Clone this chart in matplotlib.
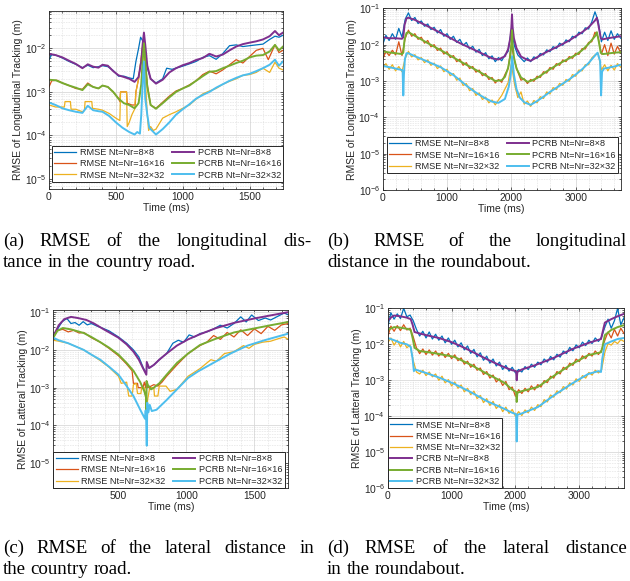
import matplotlib.pyplot as plt
import numpy as np
from matplotlib.ticker import LogLocator, NullFormatter, AutoMinorLocator

plt.rcParams['font.family'] = ['Liberation Sans', 'DejaVu Sans']
plt.rcParams['axes.unicode_minus'] = True

W, H = 630, 581
AX_COLOR = '#262626'
CAPTION_SIZE = 13.6
COLORS_RMSE = ['#0072BD', '#D95319', '#EDB120']
COLORS_PCRB = ['#7E2F8E', '#77AC30', '#4DBEEE']
LABELS_RMSE = ['RMSE Nt=Nr=8\u00d78', 'RMSE Nt=Nr=16\u00d716', 'RMSE Nt=Nr=32\u00d732']
LABELS_PCRB = ['PCRB Nt=Nr=8\u00d78', 'PCRB Nt=Nr=16\u00d716', 'PCRB Nt=Nr=32\u00d732']

# ---------------- (a) longitudinal, country road: (time ms, RMSE m)
rmse8_a = [(0, 5.5e-3), (20, 7.2e-3), (60, 6.8e-3), (100, 6.0e-3), (150, 5.0e-3), (200, 4.3e-3), (250, 3.6e-3),
           (290, 4.1e-3), (330, 3.6e-3), (370, 3.8e-3), (400, 4.0e-3), (440, 3.8e-3), (480, 3.1e-3), (520, 2.3e-3),
           (560, 2.3e-3), (600, 2.1e-3), (630, 2.0e-3), (650, 5e-3), (670, 1.0e-2), (685, 1.8e-2), (700, 1.5e-2),
           (715, 1.2e-2), (730, 4e-3), (760, 2.0e-3), (800, 1.6e-3), (850, 2.0e-3), (880, 3.5e-3), (920, 3.3e-3),
           (960, 3.6e-3), (1000, 3.9e-3), (1050, 4.4e-3), (1100, 5.0e-3), (1150, 6.2e-3), (1200, 6.8e-3),
           (1250, 5.6e-3), (1300, 7.6e-3), (1350, 1.15e-2), (1400, 1.2e-2), (1450, 1.1e-2), (1500, 1.15e-2),
           (1550, 1.2e-2), (1600, 1.25e-2), (1650, 1.6e-2), (1690, 1.9e-2), (1720, 1.8e-2), (1750, 2.0e-2)]
rmse16_a = [(0, 1.3e-3), (20, 1.8e-3), (60, 1.85e-3), (100, 1.6e-3), (150, 1.4e-3), (200, 1.2e-3), (250, 1.15e-3),
            (290, 1.6e-3), (330, 1.3e-3), (370, 1.2e-3), (400, 1.4e-3), (440, 1.3e-3), (480, 1.0e-3), (520, 7e-4),
            (530, 6e-4), (535, 1.0e-3), (580, 1.0e-3), (585, 5.5e-4), (620, 5e-4), (645, 5e-4), (650, 1.0e-3),
            (670, 2e-3), (690, 6e-3), (705, 1.5e-2), (720, 5e-3), (735, 1.5e-3), (760, 5e-4), (800, 4.2e-4),
            (850, 5.8e-4), (900, 8e-4), (950, 1.05e-3), (1000, 1.2e-3), (1050, 1.45e-3), (1100, 1.8e-3),
            (1150, 2.5e-3), (1200, 3.0e-3), (1250, 2.6e-3), (1300, 3.2e-3), (1350, 4.2e-3), (1400, 5.5e-3),
            (1450, 4.6e-3), (1500, 6.5e-3), (1550, 9e-3), (1600, 1.0e-2), (1640, 5.5e-3), (1690, 1.2e-2),
            (1720, 8e-3), (1750, 9e-3)]
rmse32_a = [(0, 5e-4), (50, 4.5e-4), (115, 4.5e-4), (120, 6e-4), (160, 6e-4), (165, 4e-4), (200, 4e-4),
            (250, 3.5e-4), (265, 3.8e-4), (270, 6e-4), (320, 6e-4), (325, 4.2e-4), (370, 4.0e-4), (400, 3.8e-4),
            (450, 3.2e-4), (500, 2.5e-4), (530, 2.2e-4), (535, 1.0e-3), (580, 1.0e-3), (585, 1.6e-4), (600, 2e-4),
            (620, 3e-4), (640, 4e-4), (650, 1.0e-3), (670, 2e-3), (690, 6e-3), (705, 1.4e-2), (720, 2e-3),
            (735, 3e-4), (745, 1.3e-4), (760, 1.6e-4), (780, 1.3e-4), (800, 1.4e-4), (850, 2.5e-4), (900, 3.0e-4),
            (950, 3.5e-4), (1000, 4.2e-4), (1050, 5.0e-4), (1100, 6.8e-4), (1150, 9e-4), (1200, 1.05e-3),
            (1250, 1.2e-3), (1300, 1.5e-3), (1350, 1.75e-3), (1400, 2.0e-3), (1450, 2.4e-3), (1500, 2.5e-3),
            (1550, 2.8e-3), (1600, 3.5e-3), (1650, 2.8e-3), (1690, 4.8e-3), (1720, 3.5e-3), (1750, 3.2e-3)]
pcrb8_a = [(0, 7.5e-3), (50, 7.0e-3), (100, 6.2e-3), (150, 5.2e-3), (200, 4.4e-3), (250, 3.5e-3), (290, 4.3e-3),
           (330, 3.8e-3), (370, 3.6e-3), (400, 4.2e-3), (440, 4.0e-3), (480, 3.0e-3), (520, 2.4e-3), (560, 2.2e-3),
           (600, 2.0e-3), (640, 1.7e-3), (670, 2.2e-3), (690, 5e-3), (700, 1.2e-2), (710, 2.3e-2), (720, 1.2e-2),
           (735, 4e-3), (760, 2.0e-3), (800, 1.55e-3), (850, 1.9e-3), (900, 2.8e-3), (950, 3.5e-3), (1000, 4.1e-3),
           (1050, 4.6e-3), (1100, 5.4e-3), (1150, 6.0e-3), (1200, 7.5e-3), (1250, 6.5e-3), (1300, 7.2e-3),
           (1350, 9e-3), (1400, 1.1e-2), (1450, 1.25e-2), (1500, 1.35e-2), (1550, 1.45e-2), (1600, 1.6e-2),
           (1650, 1.9e-2), (1690, 2.5e-2), (1720, 2.0e-2), (1750, 2.3e-2)]
pcrb16_a = [(0, 1.9e-3), (50, 1.85e-3), (100, 1.6e-3), (150, 1.4e-3), (200, 1.25e-3), (250, 1.1e-3), (290, 1.5e-3),
            (330, 1.3e-3), (370, 1.2e-3), (400, 1.4e-3), (440, 1.3e-3), (480, 1.0e-3), (520, 7e-4), (560, 5.5e-4),
            (600, 5e-4), (640, 4.2e-4), (670, 5.5e-4), (690, 1.5e-3), (700, 5e-3), (710, 1.3e-2), (720, 5e-3),
            (735, 1.3e-3), (760, 5e-4), (800, 4.1e-4), (850, 5.5e-4), (900, 7.5e-4), (950, 1.0e-3), (1000, 1.2e-3),
            (1050, 1.4e-3), (1100, 1.8e-3), (1150, 2.3e-3), (1200, 2.9e-3), (1250, 3.0e-3), (1300, 3.5e-3),
            (1350, 4.0e-3), (1400, 4.6e-3), (1450, 5.2e-3), (1500, 6.2e-3), (1550, 6.8e-3), (1600, 7e-3),
            (1650, 8.5e-3), (1690, 1.2e-2), (1720, 9e-3), (1750, 1.1e-2)]
pcrb32_a = [(0, 5.7e-4), (50, 5.0e-4), (100, 4.2e-4), (150, 3.8e-4), (200, 3.5e-4), (250, 3.3e-4), (290, 4.8e-4),
            (330, 3.8e-4), (370, 3.6e-4), (400, 3.5e-4), (450, 2.8e-4), (500, 2.0e-4), (550, 1.5e-4), (600, 1.2e-4),
            (640, 1.05e-4), (660, 1.2e-4), (680, 1.1e-4), (690, 3e-4), (700, 1.5e-3), (710, 5e-3), (720, 7e-4),
            (735, 3e-4), (750, 1.5e-4), (800, 1.05e-4), (850, 1.4e-4), (900, 2.0e-4), (950, 3.0e-4), (1000, 4.0e-4),
            (1050, 5.2e-4), (1100, 7e-4), (1150, 8.5e-4), (1200, 1.0e-3), (1250, 1.25e-3), (1300, 1.5e-3),
            (1350, 1.8e-3), (1400, 2.1e-3), (1450, 2.4e-3), (1500, 2.6e-3), (1550, 3.0e-3), (1600, 3.5e-3),
            (1650, 4.2e-3), (1690, 5.5e-3), (1720, 4e-3), (1750, 5e-3)]

# ---------------- (b) longitudinal, roundabout (RMSE sampled every 50 ms)
t_round = np.arange(0, 3701, 50)
rmse8_b = [1.0e-2, 1.8e-2, 1.3e-2, 2.0e-2, 1.4e-2, 2.8e-2, 1.6e-2, 5.0e-2, 7.5e-2, 4.6e-2,
           5.6e-2, 3.8e-2, 4.5e-2, 3.2e-2, 3.7e-2, 2.6e-2, 3.0e-2, 2.1e-2, 2.6e-2, 1.7e-2,
           2.0e-2, 1.4e-2, 1.7e-2, 1.15e-2, 1.4e-2, 9.5e-3, 1.15e-2, 7.6e-3, 9.0e-3, 6.2e-3,
           7.4e-3, 5.0e-3, 6.0e-3, 4.1e-3, 4.9e-3, 3.4e-3, 4.4e-3, 3.6e-3, 5.2e-3, 6.5e-3,
           2.5e-2, 9e-3, 5.2e-3, 4.2e-3, 3.4e-3, 4.3e-3, 3.4e-3, 4.6e-3, 4.2e-3, 5.7e-3,
           5.2e-3, 7.2e-3, 6.4e-3, 8.8e-3, 7.8e-3, 1.1e-2, 9.6e-3, 1.35e-2, 1.2e-2, 1.7e-2,
           1.55e-2, 2.2e-2, 2.0e-2, 2.9e-2, 2.7e-2, 4.2e-2, 8.0e-2, 4.5e-2, 1.2e-2, 2.2e-2,
           1.3e-2, 2.4e-2, 1.4e-2, 2.0e-2, 1.5e-2]
rmse16_b = [4.0e-3, 6.5e-3, 5.0e-3, 7.0e-3, 5.2e-3, 1.2e-2, 5.0e-3, 1.5e-2, 2.5e-2, 1.7e-2,
            2.0e-2, 1.4e-2, 1.6e-2, 1.1e-2, 1.3e-2, 8.7e-3, 1.0e-2, 6.9e-3, 8.0e-3, 5.5e-3,
            6.4e-3, 4.4e-3, 5.0e-3, 3.4e-3, 4.0e-3, 2.7e-3, 3.2e-3, 2.2e-3, 2.5e-3, 1.75e-3,
            2.0e-3, 1.4e-3, 1.6e-3, 1.1e-3, 1.25e-3, 8.8e-4, 1.1e-3, 9.2e-4, 1.5e-3, 2.2e-3,
            1.0e-2, 3.5e-3, 1.8e-3, 1.05e-3, 1.15e-3, 8.5e-4, 1.1e-3, 9.8e-4, 1.35e-3, 1.25e-3,
            1.8e-3, 1.65e-3, 2.35e-3, 2.1e-3, 3.0e-3, 2.7e-3, 3.8e-3, 3.4e-3, 4.7e-3, 4.2e-3,
            5.8e-3, 5.4e-3, 7.8e-3, 7.6e-3, 1.15e-2, 1.2e-2, 2.2e-2, 1.6e-2, 5.5e-3, 1.0e-2,
            5.0e-3, 1.1e-2, 5.5e-3, 9e-3, 6e-3]
rmse32_b = [2.2e-3, 3.0e-3, 2.1e-3, 2.8e-3, 1.9e-3, 2.5e-3, 1.8e-3, 4.2e-3, 6.5e-3, 4.6e-3,
            5.3e-3, 3.8e-3, 4.4e-3, 3.2e-3, 3.8e-3, 2.7e-3, 3.1e-3, 2.2e-3, 2.6e-3, 1.8e-3,
            2.1e-3, 1.4e-3, 1.6e-3, 1.05e-3, 1.2e-3, 7.5e-4, 8.5e-4, 5.4e-4, 6.2e-4, 4.0e-4,
            4.7e-4, 3.1e-4, 3.6e-4, 2.5e-4, 3.0e-4, 2.2e-4, 3.0e-4, 4.0e-4, 6e-4, 9e-4,
            3.0e-3, 8e-4, 3.5e-4, 5.0e-4, 2.3e-4, 2.8e-4, 2.0e-4, 2.9e-4, 2.5e-4, 3.7e-4,
            3.3e-4, 5.0e-4, 4.4e-4, 6.6e-4, 5.8e-4, 8.6e-4, 7.6e-4, 1.1e-3, 9.8e-4, 1.5e-3,
            1.35e-3, 2.0e-3, 1.9e-3, 2.8e-3, 2.8e-3, 4.3e-3, 5.2e-3, 5.8e-3, 2.0e-3, 2.8e-3,
            1.9e-3, 2.7e-3, 2.0e-3, 3.0e-3, 2.4e-3]
pcrb8_b = [(0, 1.6e-2), (100, 1.5e-2), (200, 1.5e-2), (300, 1.45e-2), (320, 1.6e-2), (340, 3.5e-2), (370, 5.3e-2),
           (400, 5.5e-2), (500, 4.8e-2), (700, 3.2e-2), (950, 1.9e-2), (1200, 1.1e-2), (1500, 6.2e-3),
           (1700, 4.2e-3), (1800, 3.9e-3), (1900, 4.8e-3), (1950, 7.5e-3), (1980, 1.4e-2), (2000, 3e-2),
           (2010, 6.8e-2), (2020, 3e-2), (2040, 1.5e-2), (2080, 8e-3), (2150, 4.7e-3), (2250, 3.8e-3),
           (2300, 3.6e-3), (2400, 4.5e-3), (2500, 5.7e-3), (2600, 7e-3), (2700, 8.5e-3), (2800, 1.05e-2),
           (2900, 1.3e-2), (3000, 1.7e-2), (3100, 2.2e-2), (3200, 3.0e-2), (3300, 4.6e-2), (3330, 5.5e-2),
           (3360, 3e-2), (3390, 1.5e-2), (3420, 1.4e-2), (3500, 1.5e-2), (3600, 1.6e-2), (3700, 1.7e-2)]
pcrb16_b = [(0, 6.5e-3), (100, 6.1e-3), (200, 5.8e-3), (300, 5.5e-3), (320, 6e-3), (340, 1.4e-2), (370, 2.1e-2),
            (400, 2.2e-2), (500, 1.75e-2), (700, 1.1e-2), (950, 6.3e-3), (1200, 3.5e-3), (1500, 1.8e-3),
            (1750, 1.0e-3), (1850, 1.05e-3), (1900, 1.3e-3), (1950, 2.3e-3), (1980, 4.5e-3), (2000, 1.0e-2),
            (2010, 2.5e-2), (2020, 1.0e-2), (2040, 4.5e-3), (2080, 2.2e-3), (2150, 1.25e-3), (2250, 9.5e-4),
            (2300, 1.0e-3), (2400, 1.2e-3), (2500, 1.6e-3), (2600, 2.1e-3), (2700, 2.7e-3), (2800, 3.4e-3),
            (2900, 4.2e-3), (3000, 5.2e-3), (3100, 7e-3), (3200, 1.05e-2), (3300, 1.7e-2), (3330, 2.2e-2),
            (3360, 1.2e-2), (3390, 6e-3), (3420, 5.5e-3), (3500, 5.7e-3), (3600, 6e-3), (3700, 6.2e-3)]
pcrb32_b = [(0, 2.6e-3), (100, 2.4e-3), (200, 2.2e-3), (300, 2.0e-3), (310, 1.8e-3), (320, 4e-4), (330, 1.5e-3),
            (345, 4e-3), (370, 5.8e-3), (400, 5.8e-3), (500, 4.8e-3), (700, 3.4e-3), (900, 2.4e-3), (1100, 1.45e-3),
            (1200, 1.05e-3), (1300, 7.5e-4), (1400, 5.5e-4), (1500, 4.2e-4), (1600, 3.3e-4), (1700, 2.7e-4),
            (1800, 2.5e-4), (1900, 3.2e-4), (1960, 7e-4), (1990, 1.5e-3), (2012, 4.8e-3), (2040, 1.5e-3),
            (2080, 6e-4), (2130, 3.5e-4), (2200, 2.6e-4), (2300, 2.2e-4), (2400, 2.8e-4), (2500, 3.7e-4),
            (2600, 5e-4), (2700, 6.5e-4), (2800, 8.5e-4), (2900, 1.1e-3), (3000, 1.5e-3), (3100, 2.1e-3),
            (3200, 3.1e-3), (3300, 5e-3), (3340, 6e-3), (3380, 3.5e-3), (3395, 4e-4), (3410, 1.8e-3),
            (3440, 2.2e-3), (3500, 2.3e-3), (3600, 2.5e-3), (3700, 2.8e-3)]

# ---------------- (c) lateral, country road
rmse8_c = [(20, 2.3e-2), (50, 3.5e-2), (85, 5.6e-2), (120, 6.8e-2), (150, 5.0e-2), (180, 5.3e-2), (210, 4.5e-2),
           (240, 5.6e-2), (270, 4.6e-2), (300, 5.0e-2), (340, 4.3e-2), (380, 3.8e-2), (430, 3.2e-2), (500, 2.2e-2),
           (560, 1.5e-2), (610, 1.0e-2), (650, 6.5e-3), (680, 3.5e-3), (705, 2.3e-3), (708, 4.5e-3), (725, 3.3e-3),
           (760, 4e-3), (800, 5.5e-3), (854, 8e-3), (900, 1.5e-2), (940, 1.8e-2), (980, 1.6e-2), (1020, 2.5e-2),
           (1060, 2.2e-2), (1100, 2.7e-2), (1150, 3.0e-2), (1200, 3.6e-2), (1250, 4.5e-2), (1300, 3.8e-2),
           (1350, 5.0e-2), (1400, 7.5e-2), (1440, 5.5e-2), (1480, 8.4e-2), (1530, 6.0e-2), (1580, 7.0e-2),
           (1620, 6.2e-2), (1680, 8.0e-2), (1720, 9.5e-2), (1750, 8.5e-2)]
rmse16_c = [(20, 2.2e-2), (50, 3.3e-2), (90, 3.5e-2), (130, 3.0e-2), (170, 3.3e-2), (210, 2.8e-2), (244, 2.9e-2),
            (300, 2.1e-2), (366, 1.6e-2), (430, 1.1e-2), (500, 7e-3), (560, 4.2e-3), (600, 2.8e-3), (610, 1.3e-3),
            (640, 1.3e-3), (645, 1.0e-3), (680, 1.0e-3), (690, 1.4e-3), (700, 1.0e-3), (705, 1.5e-3),
            (715, 1.0e-3), (740, 1.1e-3), (760, 1.2e-3), (790, 1.1e-3), (820, 1.4e-3), (854, 2.0e-3), (930, 4e-3),
            (1012, 8e-3), (1100, 1.3e-2), (1150, 1.6e-2), (1200, 2.4e-2), (1250, 1.9e-2), (1300, 2.9e-2),
            (1350, 2.2e-2), (1400, 3.4e-2), (1450, 2.4e-2), (1500, 3.6e-2), (1550, 2.7e-2), (1600, 4.2e-2),
            (1650, 3.3e-2), (1700, 4.6e-2), (1750, 5.0e-2)]
rmse32_c = [(20, 1.8e-2), (60, 1.7e-2), (130, 1.5e-2), (244, 1.0e-2), (300, 7.5e-3), (366, 5.2e-3), (430, 3.5e-3),
            (500, 2.0e-3), (520, 1.3e-3), (560, 1.4e-3), (575, 6e-4), (600, 6e-4), (610, 1.2e-3), (630, 1.3e-3),
            (640, 7e-4), (665, 7e-4), (670, 1.0e-3), (690, 1.0e-3), (700, 6e-4), (705, 2e-4), (715, 5e-4),
            (730, 1.0e-3), (760, 1.0e-3), (765, 6e-4), (790, 6e-4), (800, 1.1e-3), (850, 1.1e-3), (880, 8e-4),
            (930, 9e-4), (1012, 2.0e-3), (1100, 3.2e-3), (1180, 5.5e-3), (1220, 5e-3), (1280, 8e-3), (1350, 9e-3),
            (1420, 1.3e-2), (1460, 1.1e-2), (1500, 1.4e-2), (1560, 1.6e-2), (1620, 1.7e-2), (1680, 2.0e-2),
            (1720, 2.2e-2), (1750, 1.9e-2)]
pcrb8_c = [(20, 2.3e-2), (60, 4.5e-2), (100, 6.5e-2), (150, 7.5e-2), (200, 7.0e-2), (264, 6.2e-2), (320, 5.0e-2),
           (386, 3.6e-2), (440, 2.8e-2), (500, 2.1e-2), (560, 1.4e-2), (610, 9e-3), (650, 5.5e-3), (680, 3.3e-3),
           (705, 2.2e-3), (708, 4.8e-3), (725, 3.3e-3), (760, 4.0e-3), (800, 5.5e-3), (854, 8e-3), (930, 1.3e-2),
           (1012, 1.9e-2), (1100, 2.6e-2), (1220, 3.8e-2), (1350, 5.2e-2), (1500, 6.8e-2), (1620, 8.2e-2),
           (1750, 1.0e-1)]
pcrb16_c = [(20, 2.1e-2), (50, 3.2e-2), (90, 3.8e-2), (150, 3.5e-2), (244, 2.8e-2), (300, 2.2e-2), (366, 1.6e-2),
            (430, 1.15e-2), (500, 7.5e-3), (560, 4.5e-3), (610, 2.8e-3), (660, 1.4e-3), (690, 8e-4), (703, 5.5e-4),
            (705, 1.5e-4), (707, 1.5e-3), (715, 1.2e-3), (740, 9e-4), (760, 1.0e-3), (800, 1.3e-3), (854, 2.2e-3),
            (930, 4.5e-3), (1012, 8e-3), (1100, 1.35e-2), (1220, 2.0e-2), (1350, 2.9e-2), (1500, 3.7e-2),
            (1620, 4.5e-2), (1750, 5.5e-2)]
pcrb32_c = [(20, 2.1e-2), (60, 1.8e-2), (130, 1.5e-2), (244, 1.0e-2), (300, 7.5e-3), (366, 5.5e-3), (430, 3.6e-3),
            (500, 2.2e-3), (560, 1.1e-3), (610, 6e-4), (660, 2.6e-4), (695, 1.5e-4), (700, 2.5e-4), (704, 1.3e-4),
            (708, 2.9e-5), (712, 4e-4), (720, 2.2e-4), (730, 3.5e-4), (745, 2.4e-4), (780, 2.6e-4), (854, 4.7e-4),
            (930, 9e-4), (1012, 1.8e-3), (1086, 2.7e-3), (1220, 5e-3), (1330, 8.2e-3), (1450, 1.3e-2),
            (1574, 1.8e-2), (1750, 2.7e-2)]

# ---------------- (d) lateral, roundabout (RMSE sampled every 50 ms)
rmse8_d = [3.0e-2, 7.5e-2, 5.0e-2, 7.0e-2, 5.2e-2, 1.0e-1, 5.8e-2, 6.5e-2, 4.5e-2, 2.6e-2,
           1.7e-2, 2.3e-2, 1.5e-2, 2.2e-2, 1.4e-2, 1.9e-2, 1.3e-2, 1.7e-2, 1.1e-2, 1.5e-2,
           1.0e-2, 1.3e-2, 8.5e-3, 1.1e-2, 7e-3, 9e-3, 5.6e-3, 7.2e-3, 4.5e-3, 5.8e-3,
           3.6e-3, 4.7e-3, 3.0e-3, 3.9e-3, 2.5e-3, 3.2e-3, 2.0e-3, 2.6e-3, 1.8e-3, 2.3e-3,
           1.6e-3, 2.0e-3, 1.7e-3, 2.4e-3, 2.0e-3, 2.8e-3, 2.3e-3, 3.2e-3, 2.7e-3, 3.9e-3,
           3.2e-3, 4.6e-3, 3.7e-3, 5.3e-3, 4.4e-3, 6.5e-3, 5.5e-3, 8.2e-3, 6.6e-3, 9.6e-3,
           8e-3, 1.15e-2, 9.2e-3, 1.3e-2, 1.05e-2, 1.5e-2, 1.2e-2, 1.6e-2, 3e-2, 5e-2,
           2.8e-2, 4.5e-2, 1.0e-1, 3.5e-2, 5.5e-2]
rmse16_d = [1.6e-2, 3.2e-2, 2.3e-2, 3.3e-2, 2.4e-2, 3.5e-2, 2.5e-2, 2.8e-2, 1.6e-2, 8e-3,
            5.5e-3, 7.4e-3, 5.2e-3, 7e-3, 5.0e-3, 6.5e-3, 4.7e-3, 6.0e-3, 4.3e-3, 5.6e-3,
            4.0e-3, 5.1e-3, 3.5e-3, 4.2e-3, 2.8e-3, 3.4e-3, 2.3e-3, 2.8e-3, 1.9e-3, 2.2e-3,
            1.45e-3, 1.75e-3, 1.15e-3, 1.4e-3, 9e-4, 1.1e-3, 7.2e-4, 9.3e-4, 5.5e-4, 6.5e-4,
            3.6e-4, 5.5e-4, 4.3e-4, 6e-4, 4.8e-4, 7e-4, 5.4e-4, 7.6e-4, 6.5e-4, 9.8e-4,
            8.6e-4, 1.3e-3, 1.15e-3, 1.75e-3, 1.5e-3, 2.3e-3, 2.0e-3, 3.0e-3, 2.6e-3, 3.9e-3,
            3.3e-3, 4.8e-3, 4.0e-3, 5.6e-3, 4.7e-3, 6.5e-3, 5.2e-3, 7e-3, 1.3e-2, 2.2e-2,
            1.5e-2, 2.6e-2, 1.7e-2, 2.8e-2, 2.0e-2]
rmse32_d = [1.1e-2, 1.5e-2, 9.5e-3, 1.3e-2, 8.5e-3, 1.2e-2, 8e-3, 9.5e-3, 3.5e-3, 1.7e-3,
            1.5e-3, 1.9e-3, 1.35e-3, 1.7e-3, 1.25e-3, 1.5e-3, 1.0e-3, 1.3e-3, 8.5e-4, 1.05e-3,
            7e-4, 9e-4, 6e-4, 7.4e-4, 4.8e-4, 6e-4, 4e-4, 5e-4, 3.1e-4, 3.8e-4,
            2.4e-4, 3.1e-4, 2.0e-4, 2.6e-4, 1.65e-4, 2.1e-4, 1.35e-4, 1.8e-4, 1.2e-4, 1.55e-4,
            1.0e-4, 1.35e-4, 1.05e-4, 1.5e-4, 1.25e-4, 1.8e-4, 1.45e-4, 2.1e-4, 1.85e-4, 2.9e-4,
            2.5e-4, 3.9e-4, 3.4e-4, 5.1e-4, 4.5e-4, 6.7e-4, 5.7e-4, 8.5e-4, 7.4e-4, 1.1e-3,
            9.3e-4, 1.35e-3, 1.15e-3, 1.65e-3, 1.4e-3, 1.9e-3, 1.6e-3, 2.0e-3, 6e-3, 1.05e-2,
            9.5e-3, 1.2e-2, 1.05e-2, 1.35e-2, 1.2e-2]
pcrb8_d = [(0, 4.5e-2), (50, 5.5e-2), (100, 6.3e-2), (200, 6.0e-2), (300, 5.5e-2), (360, 5.0e-2), (390, 3.5e-2),
           (420, 2.2e-2), (500, 2.0e-2), (600, 1.8e-2), (800, 1.5e-2), (1000, 1.15e-2), (1200, 8e-3),
           (1300, 6.5e-3), (1400, 5.3e-3), (1560, 3.8e-3), (1700, 2.9e-3), (1830, 2.3e-3), (1950, 1.9e-3),
           (2010, 1.8e-3), (2020, 1.0e-3), (2030, 1.7e-3), (2100, 2.0e-3), (2300, 2.6e-3), (2600, 4.2e-3),
           (2900, 7.5e-3), (3150, 1.1e-2), (3340, 1.4e-2), (3360, 2.0e-2), (3400, 4.0e-2), (3500, 5e-2),
           (3600, 6e-2), (3700, 7e-2)]
pcrb16_d = [(0, 2.5e-2), (100, 3.0e-2), (200, 2.9e-2), (300, 2.7e-2), (360, 2.5e-2), (390, 1.5e-2), (420, 8e-3),
            (500, 6.5e-3), (700, 5.8e-3), (900, 5.0e-3), (1040, 4.5e-3), (1300, 2.7e-3), (1560, 1.5e-3),
            (1830, 8.5e-4), (1950, 5.5e-4), (2010, 4.8e-4), (2020, 2.5e-4), (2030, 4.5e-4), (2100, 5e-4),
            (2350, 6.5e-4), (2620, 1.4e-3), (2880, 2.8e-3), (3140, 5.0e-3), (3340, 6.0e-3), (3360, 8e-3),
            (3400, 1.8e-2), (3500, 2.5e-2), (3600, 3.0e-2), (3700, 3.4e-2)]
pcrb32_d = [(0, 1.5e-2), (100, 1.3e-2), (200, 1.1e-2), (300, 1.0e-2), (360, 8.5e-3), (390, 4e-3), (410, 1.8e-3),
            (430, 2.0e-3), (600, 1.6e-3), (800, 1.2e-3), (1040, 8e-4), (1300, 4.7e-4), (1560, 2.6e-4),
            (1830, 1.6e-4), (1950, 1.25e-4), (2010, 1.15e-4), (2020, 2e-5), (2030, 1.1e-4), (2100, 1.2e-4),
            (2350, 1.8e-4), (2620, 4e-4), (2880, 8e-4), (3140, 1.5e-3), (3300, 1.8e-3), (3340, 1.7e-3),
            (3360, 4e-3), (3400, 1e-2), (3500, 1.2e-2), (3600, 1.4e-2), (3700, 1.5e-2)]

captions = [
    (['(a) RMSE of the longitudinal dis-', 'tance in the country road.'], 3, 311, 246),
    (['(b) RMSE of the longitudinal', 'distance in the roundabout.'], 327, 627, 246),
    (['(c) RMSE of the lateral distance in', 'the country road.'], 3, 314, 553),
    (['(d) RMSE of the lateral distance', 'in the roundabout.'], 327, 627, 553),
]


def as_xy(series):
    arr = np.array(series)
    return arr[:, 0], arr[:, 1]


def draw_panel(ax, rmse, pcrb, xlim, ylim, xticks, ylabel):
    lines_r, lines_p = [], []
    for data, color, label in zip(rmse, COLORS_RMSE, LABELS_RMSE):
        t, v = data if isinstance(data, tuple) else as_xy(data)
        lines_r += ax.plot(t, v, '-', color=color, lw=0.9, label=label)
    for data, color, label in zip(pcrb, COLORS_PCRB, LABELS_PCRB):
        t, v = as_xy(data)
        lines_p += ax.plot(t, v, '-', color=color, lw=1.4, label=label)
    ax.set_yscale('log')
    ax.set_xlim(*xlim)
    ax.set_ylim(*ylim)
    ax.set_xticks(xticks)
    ax.xaxis.set_minor_locator(AutoMinorLocator(5))
    ax.yaxis.set_major_locator(LogLocator(base=10, numticks=12))
    ax.yaxis.set_minor_locator(LogLocator(base=10, subs=np.arange(2, 10), numticks=12))
    ax.yaxis.set_minor_formatter(NullFormatter())
    ax.grid(True, which='major', color='#d9d9d9', lw=0.6)
    ax.grid(True, which='minor', color='#cfcfcf', lw=0.45, ls=':')
    ax.set_axisbelow(True)
    ax.tick_params(which='both', direction='in', top=True, right=True, colors=AX_COLOR,
                   labelsize=7.4, width=0.5, pad=2)
    ax.tick_params(which='major', length=2.5)
    ax.tick_params(which='minor', length=1.3)
    for s in ax.spines.values():
        s.set_color(AX_COLOR)
        s.set_linewidth(0.6)
    ax.set_xlabel('Time (ms)', fontsize=7.5, color=AX_COLOR, labelpad=1)
    ax.set_ylabel(ylabel, fontsize=7.5, color=AX_COLOR, labelpad=1)
    return lines_r, lines_p


def add_legend(ax, handles, ncol, anchor):
    leg = ax.legend(handles, [h.get_label() for h in handles], ncol=ncol, loc='lower left',
                    bbox_to_anchor=anchor, borderaxespad=0, fontsize=6.6, frameon=True, fancybox=False,
                    edgecolor=AX_COLOR, framealpha=1, handlelength=2.4, handletextpad=0.4,
                    columnspacing=0.8, labelspacing=0.25, borderpad=0.25)
    leg.get_frame().set_linewidth(0.7)
    for txt in leg.get_texts():
        txt.set_color(AX_COLOR)


def place_line(fig, renderer, text, x0, x1, y, justify):
    words = text.split()
    objs = [fig.text(0, 1 - y / H, w, fontsize=CAPTION_SIZE, family='Liberation Serif', va='baseline',
                     color='black') for w in words]
    widths = [o.get_window_extent(renderer).width for o in objs]
    if justify and len(words) > 1:
        gap = (x1 - x0 - sum(widths)) / (len(words) - 1)
    else:
        gap = 0.25 * CAPTION_SIZE * 100 / 72
    x = x0
    for o, w in zip(objs, widths):
        o.set_x(x / W)
        x += w + gap


fig = plt.figure(figsize=(W / 100, H / 100), dpi=100)
ax_a = fig.add_axes([49 / W, 1 - 189 / H, 234 / W, 178 / H])
ax_b = fig.add_axes([382.7 / W, 1 - 190 / H, 238 / W, 181.7 / H])
ax_c = fig.add_axes([53.3 / W, 1 - 488 / H, 235 / W, 178 / H])
ax_d = fig.add_axes([387.7 / W, 1 - 488.3 / H, 236.3 / W, 180 / H])

r, p = draw_panel(ax_a, [rmse8_a, rmse16_a, rmse32_a], [pcrb8_a, pcrb16_a, pcrb32_a],
                  (0, 1750), (5.9e-6, 7.2e-2), [0, 500, 1000, 1500], 'RMSE of Longitudinal Tracking (m)')
add_legend(ax_a, r + p, 2, (0.013, 0.04))

r, p = draw_panel(ax_b, [(t_round, rmse8_b), (t_round, rmse16_b), (t_round, rmse32_b)],
                  [pcrb8_b, pcrb16_b, pcrb32_b],
                  (0, 3700), (1e-6, 1e-1), [0, 1000, 2000, 3000], 'RMSE of Longitudinal Tracking (m)')
add_legend(ax_b, r + p, 2, (0.017, 0.092))

r, p = draw_panel(ax_c, [rmse8_c, rmse16_c, rmse32_c], [pcrb8_c, pcrb16_c, pcrb32_c],
                  (20, 1750), (2.2e-6, 1.14e-1), [500, 1000, 1500], 'RMSE of Latteral Tracking (m)')
add_legend(ax_c, r + p, 2, (0.0, 0.0))

r, p = draw_panel(ax_d, [(t_round, rmse8_d), (t_round, rmse16_d), (t_round, rmse32_d)],
                  [pcrb8_d, pcrb16_d, pcrb32_d],
                  (0, 3700), (1e-6, 1e-1), [0, 1000, 2000, 3000], 'RMSE of Latteral Tracking (m)')
add_legend(ax_d, r + p, 1, (0.0, 0.0))

renderer = fig.canvas.get_renderer()
for lines, x0, x1, y in captions:
    place_line(fig, renderer, lines[0], x0, x1, y, True)
    place_line(fig, renderer, lines[1], x0, x1, y + 21, False)

fig.savefig('out.png', dpi=100)
